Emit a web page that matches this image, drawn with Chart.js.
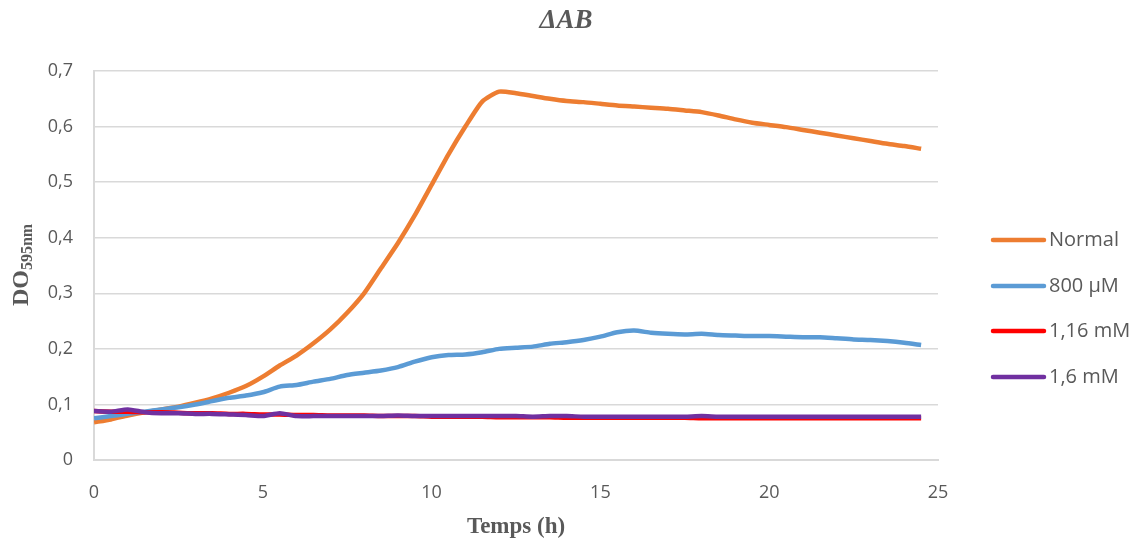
<!DOCTYPE html>
<html>
<head>
<meta charset="utf-8">
<script src="https://cdn.jsdelivr.net/npm/chart.js@4/dist/chart.umd.min.js"></script>
<style>
  html, body { margin: 0; padding: 0; background: #fff; }
  #wrap { width: 1144px; height: 546px; }
</style>
</head>
<body>
<div id="wrap"><canvas id="growthChart"></canvas></div>
<script>
// Time points (h)
const hours = [0, 0.5, 1, 1.5, 2, 2.5, 3, 3.5, 4, 4.5, 5, 5.5, 6, 6.5, 7, 7.5, 8, 8.5, 9, 9.5,
  10, 10.5, 11, 11.5, 12, 12.5, 13, 13.5, 14, 14.5, 15, 15.5, 16, 16.5, 17, 17.5, 18, 18.5, 19, 19.5,
  20, 20.5, 21, 21.5, 22, 22.5, 23, 23.5, 24, 24.5];

const seriesLabels = ['Normal', '800 µM', '1,16 mM', '1,6 mM'];
const seriesColors = ['#ED7D31', '#5B9BD5', '#FF0000', '#7030A0'];

const normal = [0.068, 0.073, 0.080, 0.086, 0.091, 0.096, 0.103, 0.111, 0.121, 0.133,
  0.150, 0.170, 0.188, 0.210, 0.235, 0.265, 0.300, 0.345, 0.390, 0.440,
  0.495, 0.550, 0.600, 0.645, 0.663, 0.660, 0.655, 0.650, 0.646, 0.644,
  0.641, 0.638, 0.636, 0.634, 0.632, 0.629, 0.626, 0.620, 0.613, 0.607,
  0.603, 0.599, 0.594, 0.589, 0.584, 0.579, 0.574, 0.569, 0.565, 0.560];

const um800 = [0.075, 0.079, 0.083, 0.087, 0.091, 0.095, 0.100, 0.106, 0.112, 0.116,
  0.122, 0.132, 0.135, 0.141, 0.146, 0.153, 0.157, 0.161, 0.167, 0.177,
  0.185, 0.189, 0.190, 0.194, 0.200, 0.202, 0.204, 0.209, 0.212, 0.216,
  0.222, 0.230, 0.233, 0.229, 0.227, 0.226, 0.227, 0.225, 0.224, 0.223,
  0.223, 0.222, 0.221, 0.221, 0.219, 0.217, 0.216, 0.214, 0.211, 0.207];

const mm116 = [0.088, 0.087, 0.087, 0.086, 0.086, 0.085, 0.084, 0.084, 0.083, 0.083,
  0.082, 0.082, 0.081, 0.081, 0.080, 0.080, 0.080, 0.079, 0.079, 0.079,
  0.078, 0.078, 0.078, 0.078, 0.077, 0.077, 0.077, 0.077, 0.076, 0.076,
  0.076, 0.076, 0.076, 0.076, 0.076, 0.076, 0.075, 0.075, 0.075, 0.075,
  0.075, 0.075, 0.075, 0.075, 0.075, 0.075, 0.075, 0.075, 0.075, 0.075];

const mm16 = [0.088, 0.087, 0.091, 0.086, 0.084, 0.084, 0.083, 0.083, 0.082, 0.081,
  0.079, 0.084, 0.079, 0.079, 0.079, 0.079, 0.079, 0.079, 0.080, 0.079,
  0.079, 0.079, 0.079, 0.079, 0.079, 0.079, 0.078, 0.079, 0.079, 0.078,
  0.078, 0.078, 0.078, 0.078, 0.078, 0.078, 0.079, 0.078, 0.078, 0.078,
  0.078, 0.078, 0.078, 0.078, 0.078, 0.078, 0.078, 0.078, 0.078, 0.078];

const yTicks = [0, 0.1, 0.2, 0.3, 0.4, 0.5, 0.6, 0.7];
const xTicks = [0, 5, 10, 15, 20, 25];

const allSeries = [normal, um800, mm116, mm16];
const datasets = allSeries.map((vals, i) => ({
  label: seriesLabels[i],
  data: vals.map((v, j) => ({ x: hours[j], y: v })),
  borderColor: seriesColors[i],
  backgroundColor: seriesColors[i],
  borderWidth: 4.5,
  pointRadius: 0,
  tension: 0.2,
  fill: false,
  order: allSeries.length - i  // later series drawn on top, like the original
}));

// Titles and legend drawn by hand (subscript in the y title)
const decorations = {
  id: 'decorations',
  afterDraw(chart) {
    const ctx = chart.ctx;
    ctx.save();
    ctx.fillStyle = '#595959';
    ctx.textBaseline = 'middle';

    // main title
    ctx.textAlign = 'center';
    ctx.font = 'italic bold 27px "Liberation Serif"';
    ctx.fillText('\u0394AB', 566, 21);

    // x title
    ctx.font = 'bold 23px "Liberation Serif"';
    ctx.fillText('Temps (h)', 516, 527);

    // y title with subscript
    ctx.translate(22, 265);
    ctx.rotate(-Math.PI / 2);
    ctx.textAlign = 'left';
    ctx.font = 'bold 24px "Liberation Serif"';
    const main = 'DO';
    const sub = '595nm';
    const wMain = ctx.measureText(main).width;
    ctx.font = 'bold 16px "Liberation Serif"';
    const wSub = ctx.measureText(sub).width;
    const start = -(wMain + wSub) / 2;
    ctx.font = 'bold 24px "Liberation Serif"';
    ctx.fillText(main, start, 0);
    ctx.font = 'bold 16px "Liberation Serif"';
    ctx.fillText(sub, start + wMain, 6);
    ctx.restore();

    // legend
    ctx.save();
    ctx.font = '20px "Open Sans"';
    ctx.textBaseline = 'middle';
    ctx.textAlign = 'left';
    const legendY = [240, 286, 331, 377];
    chart.data.datasets.forEach((ds, i) => {
      ctx.strokeStyle = ds.borderColor;
      ctx.lineWidth = 4.5;
      ctx.lineCap = 'round';
      ctx.beginPath();
      ctx.moveTo(993, legendY[i]);
      ctx.lineTo(1044, legendY[i]);
      ctx.stroke();
      ctx.fillStyle = '#595959';
      ctx.fillText(ds.label, 1049, legendY[i]);
    });
    ctx.restore();
  }
};

const ctx = document.getElementById('growthChart').getContext('2d');
new Chart(ctx, {
  type: 'line',
  data: { datasets: datasets },
  options: {
    responsive: true,
    maintainAspectRatio: false,
    animation: false,
    layout: { padding: { top: 71, right: 206, bottom: 0, left: 0 } },
    plugins: {
      legend: { display: false },
      title: { display: false },
      tooltip: { enabled: false }
    },
    scales: {
      x: {
        type: 'linear',
        min: 0,
        max: 25,
        afterFit: s => { s.height = 86; },
        afterBuildTicks: s => { s.ticks = xTicks.map(v => ({ value: v })); },
        grid: { display: false, drawTicks: false },
        border: { display: true, color: '#d9d9d9', width: 2 },
        ticks: {
          padding: 22,
          color: '#595959',
          font: { family: 'Open Sans', size: 18 }
        }
      },
      y: {
        min: 0,
        max: 0.7,
        afterFit: s => { s.width = 94; },
        afterBuildTicks: s => { s.ticks = yTicks.map(v => ({ value: v })); },
        grid: { color: '#d9d9d9', lineWidth: 1.5, drawTicks: false },
        border: { display: true, color: '#d9d9d9', width: 2 },
        ticks: {
          padding: 21,
          color: '#595959',
          font: { family: 'Open Sans', size: 18 },
          callback: v => String(Math.round(v * 10) / 10).replace('.', ',')
        }
      }
    }
  },
  plugins: [decorations]
});
</script>
</body>
</html>
